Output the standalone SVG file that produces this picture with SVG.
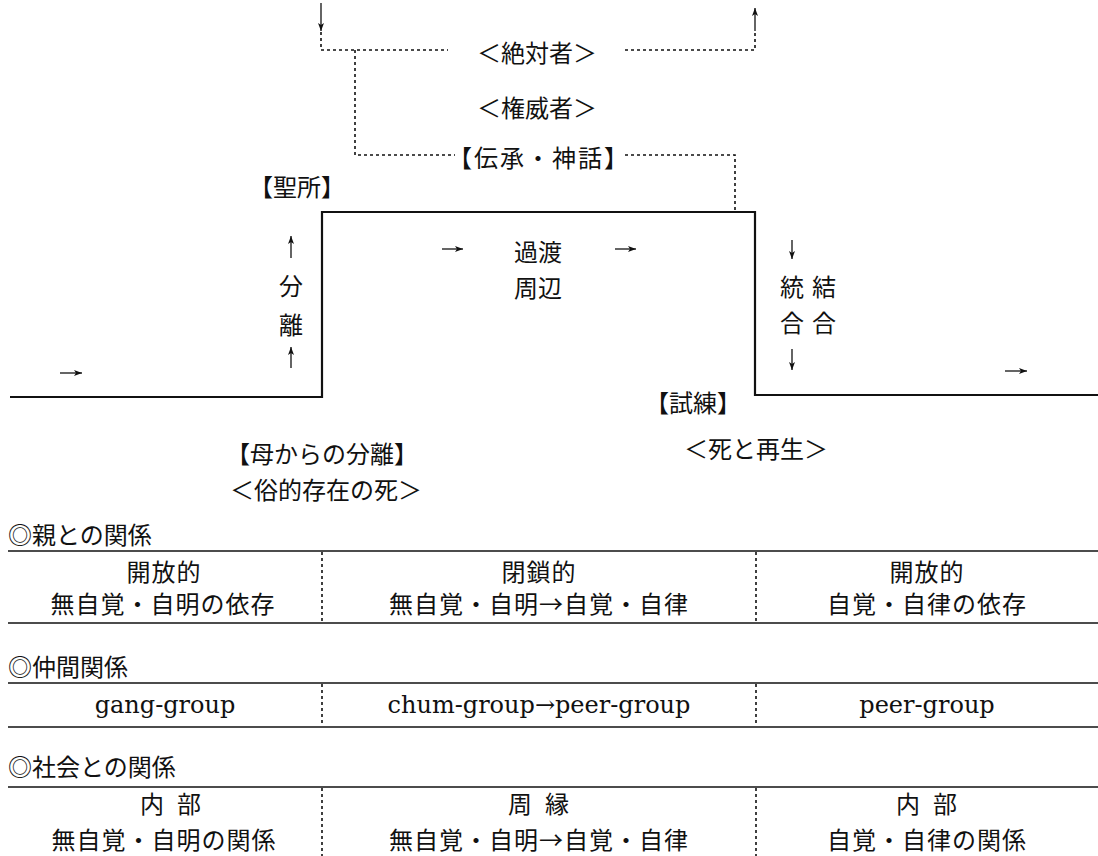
<svg xmlns="http://www.w3.org/2000/svg" width="1098" height="856" viewBox="0 0 1098 856">
<style>
.t{font-family:"Noto Sans CJK JP","Noto Sans",sans-serif;font-size:24px;fill:#111;dominant-baseline:central;text-anchor:middle}
.h{text-anchor:start}
.r{letter-spacing:1px}
.s{font-family:"DejaVu Serif","Liberation Serif",serif;font-size:24px;fill:#111;dominant-baseline:central;text-anchor:middle}
.solid{fill:none;stroke:#111;stroke-width:2.2}
.rule{fill:none;stroke:#111;stroke-width:1.6}
.dot{fill:none;stroke:#111;stroke-width:1.6;stroke-dasharray:3 3}
.arr{fill:none;stroke:#111;stroke-width:1.3;marker-end:url(#ah)}
</style>
<defs>
<marker id="ah" viewBox="0 0 8 6" refX="8" refY="3" markerWidth="8" markerHeight="6" markerUnits="userSpaceOnUse" orient="auto">
<path d="M0,0 L8,3 L0,6 L2,3 z" fill="#111"/>
</marker>
</defs>
<rect width="1098" height="856" fill="#fff"/>
<g id="connectors">
<path class="solid" d="M10,397 L322,397 L322,212 L755,212 L755,395 L1098,395"/>
<path class="dot" d="M321,32 L321,50 L448,50"/>
<path class="dot" d="M625,50 L755,50 L755,31"/>
<path class="dot" d="M355,50 L355,155 L455,155"/>
<path class="dot" d="M625,155 L735,155 L735,211"/>
<line class="arr" x1="321" y1="3" x2="321" y2="31"/>
<line class="arr" x1="755" y1="31" x2="755" y2="8"/>
<line class="arr" x1="291" y1="258" x2="291" y2="236"/>
<line class="arr" x1="291" y1="368" x2="291" y2="347"/>
<line class="arr" x1="60" y1="373" x2="82" y2="373"/>
<line class="arr" x1="442" y1="249" x2="463" y2="249"/>
<line class="arr" x1="615" y1="249" x2="636" y2="249"/>
<line class="arr" x1="1005" y1="371" x2="1027" y2="371"/>
<line class="arr" x1="792" y1="240" x2="792" y2="259"/>
<line class="arr" x1="792" y1="349" x2="792" y2="370"/>
</g>
<g id="n-zettaisha"><text class="t" x="537" y="51">＜絶対者＞</text></g>
<g id="n-keniisha"><text class="t" x="537" y="106">＜権威者＞</text></g>
<g id="n-densho"><text class="t" x="539" y="156" style="letter-spacing:2px">【伝承・神話】</text></g>
<g id="n-seisho"><text class="t" x="297" y="185">【聖所】</text></g>
<g id="n-bunri"><text class="t" x="291" y="284">分</text><text class="t" x="291" y="323">離</text></g>
<g id="n-kato"><text class="t" x="538" y="250">過渡</text><text class="t" x="538" y="286">周辺</text></g>
<g id="n-togo"><text class="t" x="792" y="285">統</text><text class="t" x="824" y="285">結</text><text class="t" x="792" y="321">合</text><text class="t" x="824" y="321">合</text></g>
<g id="n-shiren"><text class="t" x="693" y="401">【試練】</text></g>
<g id="n-haha"><text class="t" x="322" y="452">【母からの分離】</text></g>
<g id="n-zokuteki"><text class="t" x="326" y="488">＜俗的存在の死＞</text></g>
<g id="n-shito"><text class="t" x="756" y="447">＜死と再生＞</text></g>
<g id="table-oya">
<text class="t h" x="8" y="533">◎親との関係</text>
<line class="rule" x1="8" y1="551" x2="1098" y2="551"/>
<line class="rule" x1="8" y1="623" x2="1098" y2="623"/>
<line class="dot" x1="322" y1="552" x2="322" y2="622"/>
<line class="dot" x1="756" y1="552" x2="756" y2="622"/>
<text class="t r" x="164" y="570">開放的</text>
<text class="t r" x="163" y="602">無自覚・自明の依存</text>
<text class="t r" x="539" y="570">閉鎖的</text>
<text class="t r" x="539" y="602">無自覚・自明→自覚・自律</text>
<text class="t r" x="927" y="570">開放的</text>
<text class="t r" x="927" y="602">自覚・自律の依存</text>
</g>
<g id="table-nakama">
<text class="t h" x="8" y="665">◎仲間関係</text>
<line class="rule" x1="8" y1="683" x2="1098" y2="683"/>
<line class="rule" x1="8" y1="727" x2="1098" y2="727"/>
<line class="dot" x1="322" y1="684" x2="322" y2="726"/>
<line class="dot" x1="756" y1="684" x2="756" y2="726"/>
<text class="s" x="165" y="705">gang-group</text>
<text class="s" x="539" y="705">chum-group→peer-group</text>
<text class="s" x="927" y="705">peer-group</text>
</g>
<g id="table-shakai">
<text class="t h" x="8" y="765">◎社会との関係</text>
<line class="rule" x1="8" y1="787" x2="1098" y2="787"/>
<line class="dot" x1="322" y1="788" x2="322" y2="856"/>
<line class="dot" x1="756" y1="788" x2="756" y2="856"/>
<text class="t" x="152 170 189" y="802">内 部</text>
<text class="t r" x="164" y="838">無自覚・自明の関係</text>
<text class="t" x="520 538 557" y="802">周 縁</text>
<text class="t r" x="539" y="838">無自覚・自明→自覚・自律</text>
<text class="t" x="908 926 945" y="802">内 部</text>
<text class="t r" x="927" y="838">自覚・自律の関係</text>
</g>
</svg>
